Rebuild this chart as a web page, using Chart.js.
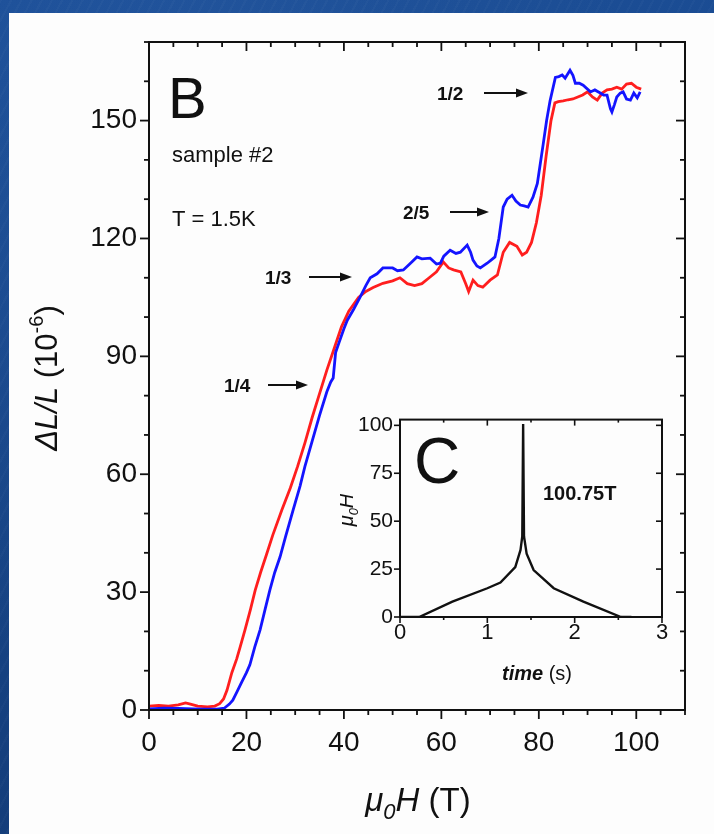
<!DOCTYPE html>
<html lang="en">
<head>
<meta charset="UTF-8">
<title>Magnetostriction at 100 T</title>
<style>
  html, body { margin: 0; padding: 0; }
  body {
    width: 714px; height: 834px; overflow: hidden; position: relative;
    background-color: #184686;
    background-image:
      repeating-linear-gradient(118deg, rgba(255,255,255,0.025) 0 2px, rgba(0,0,0,0) 2px 9px),
      radial-gradient(ellipse at 30% 20%, rgba(50,100,170,0.3), rgba(0,0,0,0) 60%),
      linear-gradient(170deg, #1c4f98, #133b76);
  }
  #panel { position: absolute; left: 9px; top: 13px; right: 0; bottom: 0; background: #fdfdfd; }
  #main { position: absolute; left: 0; top: 0; }
  #inset { position: absolute; left: 340px; top: 400px; }
</style>
<script src="https://cdn.jsdelivr.net/npm/chart.js"></script>
</head>
<body>
<div id="panel"></div>
<canvas id="main" width="714" height="834"></canvas>
<canvas id="inset" width="340" height="300"></canvas>
<script>
// main panel B: field (T) vs dL/L (1e-6)
const redH = [0, 2, 4, 6, 7.5, 8.5, 10, 12, 13.5, 14.5, 15.3, 16, 17, 18, 18.7, 19.7, 20.8, 21.8, 22.9, 24.1, 25.4, 27.3, 29, 30.5, 32, 33.5, 35, 36.5, 38, 39.5, 41, 43, 44.5, 46, 48, 50, 51.5, 53, 54.5, 56, 57.5, 59, 60.4, 61.5, 62.5, 64, 65, 65.6, 66.5, 67.5, 68.5, 70, 71.5, 72.7, 74, 75.5, 76.6, 77.5, 78.5, 79.5, 80.5, 81.5, 82.5, 83.3, 84, 85, 86, 87, 88, 89, 90, 91, 92, 93, 94, 95, 96, 97, 98, 99, 100, 101];
const redDL = [1.0, 1.2, 1.0, 1.3, 1.8, 1.5, 1.0, 0.8, 1.0, 1.6, 2.8, 5.0, 9.5, 13.0, 16.0, 20.4, 25.5, 30.5, 35.0, 39.5, 44.5, 51.0, 56.5, 62.0, 68.0, 74.5, 80.5, 86.5, 92.0, 97.5, 101.5, 105, 106.5, 107.5, 108.6, 109.2, 110, 108.5, 108, 108.5, 110, 111.5, 114, 112.5, 112, 111.5, 108.5, 106.5, 109.4, 108, 107.6, 109.4, 110.7, 116.5, 119, 118, 115.8, 116.5, 119, 124, 131, 141, 150, 154.5, 154.8, 155, 155.3, 155.5, 156, 156.5, 157.3, 156, 155.2, 157, 157.8, 158, 158.5, 158, 159.3, 159.5, 158.5, 158];

const blueH = [0, 3, 6, 9, 12, 14, 15.5, 16.5, 17.2, 18, 19, 20, 20.7, 21.7, 22.8, 23.8, 24.8, 25.8, 26.9, 28, 29.6, 31, 32, 33.5, 35, 36.5, 37.3, 37.8, 38.3, 39, 40, 40.7, 42, 43.3, 44.5, 45.4, 46.8, 48, 50, 51, 52.2, 53.5, 55, 56, 57.7, 59, 59.8, 60.5, 61.8, 63, 63.9, 65.3, 66, 66.5, 67.3, 68, 69.4, 70.2, 71, 71.8, 72.7, 73.5, 74.5, 75.3, 76.2, 77, 77.8, 78.8, 79.7, 80.3, 80.9, 81.6, 82.3, 83.4, 84.1, 84.8, 85.4, 86.4, 87, 87.5, 88.3, 89.1, 90.6, 91.5, 92.6, 93.3, 94, 94.7, 95, 95.5, 96, 96.7, 97.3, 98, 98.8, 99.5, 100.2, 100.8];
const blueDL = [0.3, 0.5, 0.4, 0.3, 0.2, 0.2, 0.5, 1.5, 2.5, 4.5, 7, 9.5, 11.5, 16, 20.4, 25.5, 30.5, 35, 39, 44, 51, 57, 62, 68.5, 75, 81, 83.5, 84.5, 91, 93.5, 97, 99.2, 102, 105, 108, 110, 111, 112.5, 112.5, 111.8, 112, 113.5, 115.3, 114.8, 115, 113.5, 113.7, 115.5, 117, 116.2, 116.5, 118.3, 116.5, 114.5, 113, 112.5, 113.7, 114.5, 115.3, 120, 128, 130, 131, 129.5, 128.5, 128.3, 128, 130.5, 134, 139, 144, 150, 155, 161, 161.2, 161.6, 160.8, 162.8, 161.5, 159.5, 159.5, 159, 157.3, 157.8, 157, 156.5, 156.5, 153, 152.2, 154, 156, 157, 157.3, 155.5, 155.2, 157, 155.8, 157.3];

const xTicks = [0, 20, 40, 60, 80, 100];
const yTicks = [0, 30, 60, 90, 120, 150];

// inset C: pulse shape
const pulseT = [0, 0.22, 0.6, 1.0, 1.15, 1.32, 1.38, 1.40, 1.41, 1.42, 1.45, 1.53, 1.76, 2.1, 2.53, 2.65];
const pulseB = [0, 0, 8, 15, 18, 26, 35, 42, 100.75, 42, 33, 24.5, 15, 8, 0, 0];
const insetXTicks = [0, 1, 2, 3];
const insetYTicks = [0, 25, 50, 75, 100];

const FONT = '"Liberation Sans", Arial, sans-serif';
const INK = '#111';

function pts(xs, ys) { return xs.map((v, i) => ({ x: v, y: ys[i] })); }

// write a run of differently styled pieces centred on cx
function richText(ctx, parts, cx, base) {
  let w = 0;
  parts.forEach(p => { ctx.font = p.font; w += ctx.measureText(p.t).width; });
  let x = cx - w / 2;
  parts.forEach(p => {
    ctx.font = p.font;
    ctx.fillText(p.t, x, base + (p.dy || 0));
    x += ctx.measureText(p.t).width;
  });
}

function arrow(ctx, x1, x2, y) {
  ctx.beginPath(); ctx.moveTo(x1, y); ctx.lineTo(x2 - 8, y); ctx.stroke();
  ctx.beginPath(); ctx.moveTo(x2, y); ctx.lineTo(x2 - 12, y - 4.5); ctx.lineTo(x2 - 12, y + 4.5); ctx.closePath(); ctx.fill();
}

// box frame with major/minor ticks: out on left/bottom, in on top/right
const frameTicks = {
  id: 'frameTicks',
  afterDatasetsDraw(chart, args, o) {
    const { ctx, chartArea: a, scales: { x, y } } = chart;
    ctx.save();
    ctx.strokeStyle = INK;
    ctx.lineWidth = o.width;
    ctx.strokeRect(a.left, a.top, a.right - a.left, a.bottom - a.top);
    ctx.lineWidth = o.tickWidth;
    const seg = (x1, y1, x2, y2) => { ctx.beginPath(); ctx.moveTo(x1, y1); ctx.lineTo(x2, y2); ctx.stroke(); };
    const marks = (s, step) => {
      const maj = s.ticks.map(t => t.value);
      const out = [];
      for (let v = s.min; v <= s.max + 1e-9; v += step) {
        const isMaj = maj.some(m => Math.abs(m - v) < 1e-6);
        out.push([s.getPixelForValue(v), isMaj ? o.major : o.minor]);
      }
      return out;
    };
    marks(x, o.xStep).forEach(([p, L]) => { seg(p, a.bottom, p, a.bottom + L); seg(p, a.top, p, a.top + L); });
    marks(y, o.yStep).forEach(([p, L]) => { seg(a.left - L, p, a.left, p); seg(a.right - L, p, a.right, p); });
    ctx.restore();
  }
};

const mainText = {
  id: 'mainText',
  afterDraw(chart) {
    const ctx = chart.ctx;
    ctx.save();
    ctx.fillStyle = INK; ctx.strokeStyle = INK; ctx.lineWidth = 2;
    ctx.textBaseline = 'alphabetic'; ctx.textAlign = 'left';
    ctx.font = '58px ' + FONT; ctx.fillText('B', 168, 118);
    ctx.font = '22px ' + FONT; ctx.fillText('sample #2', 172, 162);
    ctx.fillText('T = 1.5K', 172, 226);
    ctx.font = 'bold 19px ' + FONT;
    [['1/2', 437, 100, 484, 528], ['2/5', 403, 219, 450, 489], ['1/3', 265, 284, 309, 352], ['1/4', 224, 392, 268, 308]]
      .forEach(([t, tx, ty, a1, a2]) => { ctx.fillText(t, tx, ty); arrow(ctx, a1, a2, ty - 7); });
    // axis titles
    richText(ctx, [
      { t: '\u03bc', font: 'italic 33px ' + FONT },
      { t: '0', font: 'italic 22px ' + FONT, dy: 8 },
      { t: 'H', font: 'italic 33px ' + FONT },
      { t: ' (T)', font: '33px ' + FONT }
    ], 418, 811);
    ctx.translate(57, 378);
    ctx.rotate(-Math.PI / 2);
    richText(ctx, [
      { t: '\u0394L/L', font: 'italic 31px ' + FONT },
      { t: ' (10', font: '31px ' + FONT },
      { t: '-6', font: '20px ' + FONT, dy: -14 },
      { t: ')', font: '31px ' + FONT }
    ], 0, 0);
    ctx.restore();
  }
};

const insetText = {
  id: 'insetText',
  afterDraw(chart) {
    const ctx = chart.ctx;
    ctx.save();
    ctx.fillStyle = INK; ctx.textAlign = 'left'; ctx.textBaseline = 'alphabetic';
    ctx.font = '64px ' + FONT; ctx.fillText('C', 74, 83);
    ctx.font = 'bold 20px ' + FONT; ctx.fillText('100.75T', 203, 100);
    richText(ctx, [
      { t: 'time', font: 'italic bold 20px ' + FONT },
      { t: ' (s)', font: '20px ' + FONT }
    ], 197, 280);
    ctx.translate(13, 110);
    ctx.rotate(-Math.PI / 2);
    richText(ctx, [
      { t: '\u03bc', font: 'italic 20px ' + FONT },
      { t: '0', font: 'italic 13px ' + FONT, dy: 5 },
      { t: 'H', font: 'italic 20px ' + FONT }
    ], 0, 0);
    ctx.restore();
  }
};

function axis(min, max, ticks, fit, size, pad) {
  return {
    type: 'linear', min: min, max: max,
    afterBuildTicks: s => { s.ticks = ticks.map(v => ({ value: v })); },
    afterFit: fit,
    grid: { display: false, drawTicks: false },
    border: { display: false },
    ticks: { color: INK, font: { family: FONT, size: size }, padding: pad, autoSkip: false, maxRotation: 0 }
  };
}

new Chart(document.getElementById('main'), {
  type: 'line',
  data: {
    datasets: [
      { label: 'up', data: pts(blueH, blueDL), borderColor: '#1414ff', borderWidth: 2.8, pointRadius: 0, tension: 0 },
      { label: 'down', data: pts(redH, redDL), borderColor: '#ff1e1e', borderWidth: 2.8, pointRadius: 0, tension: 0 }
    ]
  },
  options: {
    responsive: false,
    animation: false,
    layout: { padding: { top: 42, right: 29, left: 0, bottom: 0 } },
    scales: {
      x: axis(0, 110, xTicks, s => { s.height = 124; }, 28, 16),
      y: axis(0, 170, yTicks, s => { s.width = 149; }, 28, 12)
    },
    plugins: {
      legend: { display: false },
      tooltip: { enabled: false },
      frameTicks: { width: 2, tickWidth: 1.8, major: 9, minor: 5, xStep: 5, yStep: 10 }
    }
  },
  plugins: [frameTicks, mainText]
});

new Chart(document.getElementById('inset'), {
  type: 'line',
  data: {
    datasets: [
      { label: 'B(t)', data: pts(pulseT, pulseB), borderColor: INK, borderWidth: 2.4, pointRadius: 0, tension: 0 }
    ]
  },
  options: {
    responsive: false,
    animation: false,
    layout: { padding: { top: 15, right: 18, left: 0, bottom: 0 } },
    scales: {
      x: axis(0, 3, insetXTicks, s => { s.height = 83; }, 22, 3),
      y: axis(0, 103, insetYTicks, s => { s.width = 60; }, 21, 7)
    },
    plugins: {
      legend: { display: false },
      tooltip: { enabled: false },
      frameTicks: { width: 2, tickWidth: 1.6, major: 6, minor: 3, xStep: 0.5, yStep: 25 }
    }
  },
  plugins: [frameTicks, insetText]
});
</script>
</body>
</html>
